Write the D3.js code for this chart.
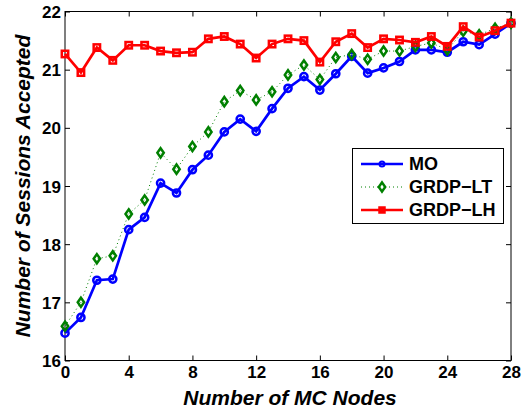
<!DOCTYPE html>
<html><head><meta charset="utf-8">
<script src="https://cdn.jsdelivr.net/npm/d3@7"></script>
<style>html,body{margin:0;padding:0;background:#fff;}svg{display:block;font-family:"Liberation Sans",Arial,Helvetica,sans-serif;}</style>
</head><body>
<svg id="chart" width="523" height="413"></svg>
<script>
const xValues = d3.range(0, 29);
const moValues = [16.47,16.74,17.38,17.40,18.25,18.46,19.05,18.88,19.28,19.53,19.93,20.15,19.94,20.33,20.68,20.88,20.65,20.93,21.23,20.94,21.03,21.14,21.34,21.34,21.30,21.48,21.43,21.61,21.80];
const ltValues = [16.59,17.00,17.75,17.80,18.52,18.76,19.57,19.29,19.68,19.93,20.45,20.64,20.48,20.62,20.91,21.08,20.83,21.21,21.26,21.18,21.32,21.32,21.40,21.46,21.34,21.66,21.60,21.71,21.80];
const lhValues = [21.27,20.95,21.38,21.16,21.42,21.42,21.32,21.29,21.30,21.53,21.57,21.44,21.20,21.44,21.53,21.50,21.13,21.48,21.62,21.38,21.53,21.51,21.47,21.57,21.40,21.74,21.56,21.67,21.80];
const xTicks = [0,4,8,12,16,20,24,28];
const yTicks = [16,17,18,19,20,21,22];
const seriesNames = ["MO","GRDP\u2212LT","GRDP\u2212LH"];

const svg = d3.select("#chart");
const L = 65, R = 511, T = 11.5, B = 360.5;
const x = d3.scaleLinear().domain([0,28]).range([L,R]);
const y = d3.scaleLinear().domain([16,22]).range([B,T]);

// box
svg.append("rect").attr("x",L).attr("y",T).attr("width",R-L).attr("height",B-T)
  .attr("fill","none").attr("stroke","#000").attr("stroke-width",1);

// axes with inward ticks
const tl = 5;
const fmt = d3.format("d");
const gx = svg.append("g").attr("transform",`translate(0,${B})`)
  .call(d3.axisBottom(x).tickValues(xTicks).tickSizeInner(-tl).tickSizeOuter(0).tickFormat(fmt));
const gxt = svg.append("g").attr("transform",`translate(0,${T})`)
  .call(d3.axisTop(x).tickValues(xTicks).tickSizeInner(-tl).tickSizeOuter(0).tickFormat(""));
const gy = svg.append("g").attr("transform",`translate(${L},0)`)
  .call(d3.axisLeft(y).tickValues(yTicks).tickSizeInner(-tl).tickSizeOuter(0).tickFormat(fmt));
const gyr = svg.append("g").attr("transform",`translate(${R},0)`)
  .call(d3.axisRight(y).tickValues(yTicks).tickSizeInner(-tl).tickSizeOuter(0).tickFormat(""));
[gx,gxt,gy,gyr].forEach(g=>{
  g.select(".domain").remove();
  g.selectAll("line").attr("stroke","#000");
  g.selectAll("text").attr("font-size",17).attr("font-weight","bold").attr("fill","#000")
    .attr("font-family","'Liberation Sans',Arial,sans-serif");
});
gx.selectAll("text").attr("y",5).attr("dy","0.75em");
gy.selectAll("text").attr("x",-4).attr("dy","0.36em");

// axis labels
svg.append("text").attr("x",(L+R)/2+2).attr("y",405).attr("text-anchor","middle")
  .attr("font-size",21).attr("font-weight","bold").attr("font-style","italic")
  .text("Number of MC Nodes");
svg.append("text").attr("transform",`translate(30,${(T+B)/2}) rotate(-90)`).attr("text-anchor","middle")
  .attr("font-size",21).attr("font-weight","bold").attr("font-style","italic")
  .text("Number of Sessions Accepted");

const line = d3.line().x((d,i)=>x(xValues[i])).y(d=>y(d));

const plot = svg.append("g");
// MO
plot.append("path").datum(moValues).attr("d",line).attr("fill","none").attr("stroke","#0000ff").attr("stroke-width",2.7);
plot.selectAll(".mo").data(moValues).enter().append("circle")
  .attr("cx",(d,i)=>x(xValues[i])).attr("cy",d=>y(d)).attr("r",3.6)
  .attr("fill","none").attr("stroke","#0000ff").attr("stroke-width",2.5);
// LT
plot.append("path").datum(ltValues).attr("d",line).attr("fill","none").attr("stroke","#008000")
  .attr("stroke-width",1).attr("stroke-dasharray","1,3");
const diamond = (cx,cy,w,h)=>`M${cx},${cy-h}L${cx+w},${cy}L${cx},${cy+h}L${cx-w},${cy}Z`;
plot.selectAll(".lt").data(ltValues).enter().append("path")
  .attr("d",(d,i)=>diamond(x(xValues[i]),y(d),3.2,4.6))
  .attr("fill","none").attr("stroke","#008000").attr("stroke-width",2.5);
// LH
plot.append("path").datum(lhValues).attr("d",line).attr("fill","none").attr("stroke","#ff0000").attr("stroke-width",2.7);
plot.selectAll(".lh").data(lhValues).enter().append("rect")
  .attr("x",(d,i)=>x(xValues[i])-3.2).attr("y",d=>y(d)-3.2).attr("width",6.4).attr("height",6.4)
  .attr("fill","none").attr("stroke","#ff0000").attr("stroke-width",2.5);

// legend
const lg = svg.append("g");
lg.append("rect").attr("x",352.5).attr("y",148.5).attr("width",151).attr("height",75)
  .attr("fill","#fff").attr("stroke","#000").attr("stroke-width",1);
const ly = [164,187,210];
const lx1 = 361, lx2 = 403, lxm = 382;
lg.append("line").attr("x1",lx1).attr("x2",lx2).attr("y1",ly[0]).attr("y2",ly[0]).attr("stroke","#0000ff").attr("stroke-width",2.5);
lg.append("circle").attr("cx",lxm).attr("cy",ly[0]).attr("r",2.5).attr("fill","none").attr("stroke","#0000ff").attr("stroke-width",2);
lg.append("line").attr("x1",lx1).attr("x2",lx2).attr("y1",ly[1]).attr("y2",ly[1]).attr("stroke","#008000").attr("stroke-width",1).attr("stroke-dasharray","1,3");
lg.append("path").attr("d",diamond(lxm,ly[1],3.2,4.6)).attr("fill","#fff").attr("stroke","#008000").attr("stroke-width",2.5);
lg.append("line").attr("x1",lx1).attr("x2",lx2).attr("y1",ly[2]).attr("y2",ly[2]).attr("stroke","#ff0000").attr("stroke-width",2.5);
lg.append("rect").attr("x",lxm-3).attr("y",ly[2]-3).attr("width",6).attr("height",6).attr("fill","#ff0000").attr("stroke","#ff0000").attr("stroke-width",1.5);
seriesNames.forEach((n,i)=>{
  lg.append("text").attr("x",409).attr("y",ly[i]).attr("dy","0.36em")
    .attr("font-size",18).attr("font-weight","bold").text(n);
});
</script>
</body></html>
